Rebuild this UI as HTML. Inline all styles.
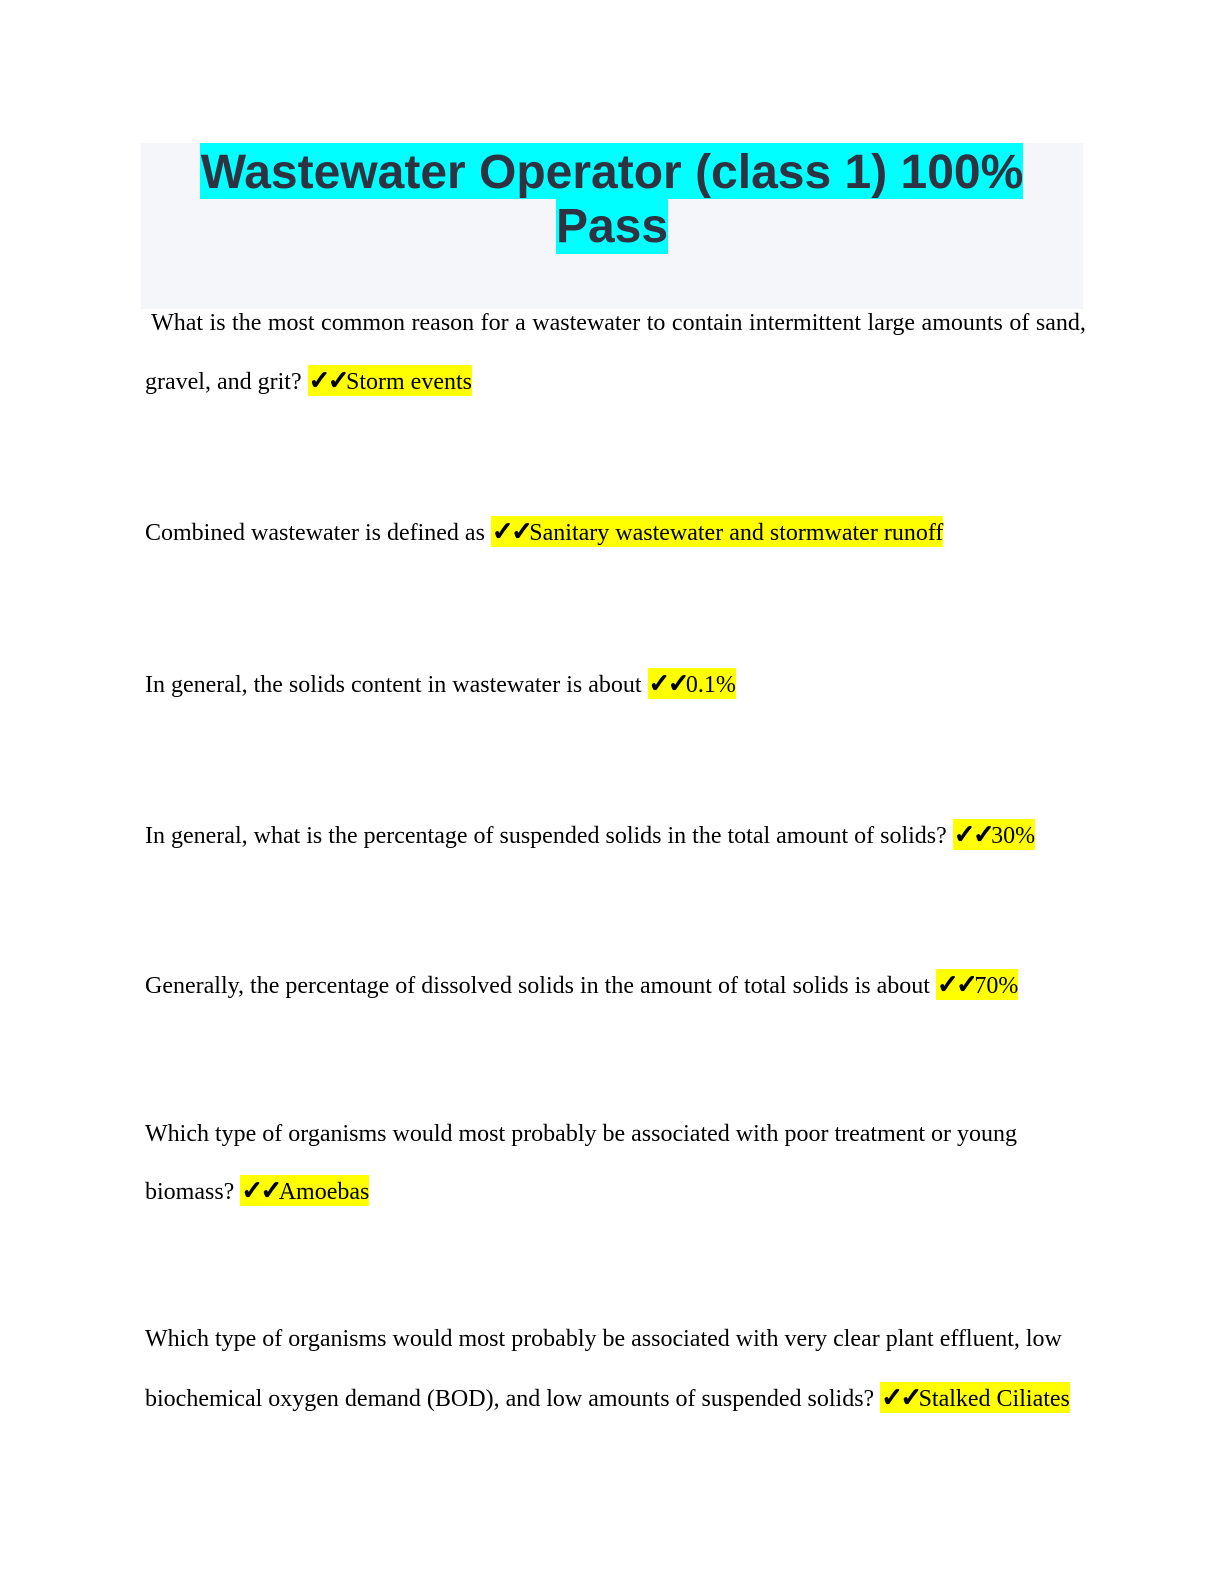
<!DOCTYPE html>
<html>
<head>
<meta charset="utf-8">
<style>
  html, body { margin:0; padding:0; background:#fff; }
  body { width:1224px; height:1584px; position:relative; overflow:hidden; }
  .box { position:absolute; left:141px; top:143px; width:942px; height:166px; background:#f5f6f9; }
  .hl-c { position:absolute; background:#00ffff; }
  .title { position:absolute; left:141px; width:942px; text-align:center;
    font-family:"Liberation Sans", Arial, sans-serif; font-weight:bold; font-size:48px;
    line-height:56px; color:#2e3241; white-space:nowrap; }
  .ln { position:absolute; left:145px; font-family:"Liberation Serif","Times New Roman",serif;
    font-size:24px; line-height:30px; color:#000; white-space:pre; }
  .y { background:#ffff00; padding-top:3.8px; padding-bottom:1.3px; }
  .ck { display:inline-block; width:19.2px; font-family:"DejaVu Sans", sans-serif; font-weight:bold;
    font-size:26px; line-height:20px; text-align:left; -webkit-text-stroke:1.3px #000;
    transform:translateX(1px); }
</style>
</head>
<body>
<div class="box"></div>
<div class="hl-c" style="left:200px; top:143px; width:823px; height:56px;"></div>
<div class="hl-c" style="left:556px; top:199px; width:112px; height:55px;"></div>
<div class="title" style="top:145.4px;">Wastewater Operator (class 1) 100%</div>
<div class="title" style="top:198.7px;">Pass</div>

<div class="ln" style="top:307.9px; word-spacing:0.5px;"> What is the most common reason for a wastewater to contain intermittent large amounts of sand,</div>
<div class="ln" style="top:366.9px;">gravel, and grit? <span class="y"><span class="ck">✓</span><span class="ck">✓</span>Storm events</span></div>

<div class="ln" style="top:517.6px;">Combined wastewater is defined as <span class="y"><span class="ck">✓</span><span class="ck">✓</span>Sanitary wastewater and stormwater runoff</span></div>

<div class="ln" style="top:669.6px;">In general, the solids content in wastewater is about <span class="y"><span class="ck">✓</span><span class="ck">✓</span>0.1%</span></div>

<div class="ln" style="top:820.6px;">In general, what is the percentage of suspended solids in the total amount of solids? <span class="y"><span class="ck">✓</span><span class="ck">✓</span>30%</span></div>

<div class="ln" style="top:970.9px;">Generally, the percentage of dissolved solids in the amount of total solids is about <span class="y"><span class="ck">✓</span><span class="ck">✓</span>70%</span></div>

<div class="ln" style="top:1118.6px;">Which type of organisms would most probably be associated with poor treatment or young</div>
<div class="ln" style="top:1176.9px;">biomass? <span class="y"><span class="ck">✓</span><span class="ck">✓</span>Amoebas</span></div>

<div class="ln" style="top:1324.2px;">Which type of organisms would most probably be associated with very clear plant effluent, low</div>
<div class="ln" style="top:1383.6px;">biochemical oxygen demand (BOD), and low amounts of suspended solids? <span class="y"><span class="ck">✓</span><span class="ck">✓</span>Stalked Ciliates</span></div>
</body>
</html>
